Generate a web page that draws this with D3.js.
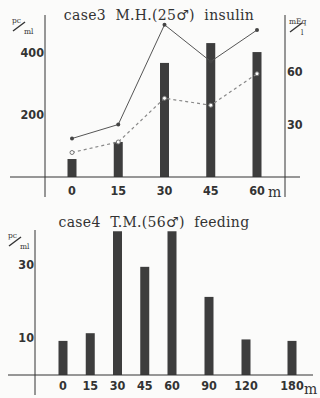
<!DOCTYPE html>
<html>
<head>
<meta charset="utf-8">
<script src="https://cdn.jsdelivr.net/npm/d3@7"></script>
<style>
  body { margin: 0; background: #fbfbfa; }
  svg { display: block; }
  .title { font-family: "DejaVu Serif", serif; font-size: 14px; fill: #333; white-space: pre; letter-spacing: 0.3px; }
  .tick-label { font-family: "DejaVu Sans Condensed", "DejaVu Sans", sans-serif; font-weight: bold; font-size: 12.5px; fill: #333; }
  .unit { font-family: "DejaVu Serif", serif; font-size: 7.5px; fill: #333; }
</style>
</head>
<body>
<div id="vis"></div>
<script>
// case 3 - insulin
const times3 = [0, 15, 30, 45, 60]
const bars3 = [58, 113, 368, 432, 403]          // pc/ml (left axis)
const solid3 = [22, 30, 87, 66, 84]             // mEq/l (right axis)
const dashed3 = [14, 20, 45, 41, 59]            // mEq/l (right axis)
const leftTicks3 = [200, 400]
const rightTicks3 = [30, 60]

// case 4 - feeding
const times4 = [0, 15, 30, 45, 60, 90, 120, 180]
const bars4 = [9.3, 11.4, 39.2, 29.5, 39.2, 21.3, 9.7, 9.3]
const leftTicks4 = [10, 30]

const svg = d3.select('#vis')
    .append('svg')
    .attr('width', 320)
    .attr('height', 398)

const ink = '#333'
const barColor = '#3d3d3d'

// ---------- top chart ----------
const gTop = svg.append('g')

const x3 = d3.scaleLinear().domain([0, 60]).range([72, 257])
const yL3 = d3.scaleLinear().domain([0, 400]).range([177, 53])
const yR3 = d3.scaleLinear().domain([0, 60]).range([177, 72])

// axes frame
gTop.append('line').attr('x1', 45).attr('x2', 45).attr('y1', 15).attr('y2', 197)
    .attr('stroke', ink).attr('stroke-width', 1)
gTop.append('line').attr('x1', 285).attr('x2', 285).attr('y1', 15).attr('y2', 197)
    .attr('stroke', ink).attr('stroke-width', 1)

gTop.selectAll('.bar3')
    .data(times3)
    .join('rect')
    .attr('class', 'bar3')
    .attr('x', d => x3(d) - 4.5)
    .attr('width', 9)
    .attr('y', (d, i) => yL3(bars3[i]))
    .attr('height', (d, i) => yL3(0) - yL3(bars3[i]))
    .attr('fill', barColor)

gTop.append('line').attr('x1', 10).attr('x2', 300).attr('y1', yL3(0)).attr('y2', yL3(0))
    .attr('stroke', ink).attr('stroke-width', 1)

// left ticks
gTop.selectAll('.lt3')
    .data(leftTicks3)
    .join('text')
    .attr('class', 'tick-label')
    .attr('x', 44)
    .attr('y', d => yL3(d) + 4)
    .attr('text-anchor', 'end')
    .text(d => d)

// right ticks
gTop.selectAll('.rt3')
    .data(rightTicks3)
    .join('text')
    .attr('class', 'tick-label')
    .attr('x', 287)
    .attr('y', d => yR3(d) + 4)
    .text(d => d)

// x tick labels
gTop.selectAll('.xt3')
    .data(times3)
    .join('text')
    .attr('class', 'tick-label')
    .attr('x', d => x3(d))
    .attr('y', 195)
    .attr('text-anchor', 'middle')
    .text(d => d)
gTop.append('text').attr('class', 'title').attr('x', 268).attr('y', 197).text('m')

// lines
const line3 = d3.line().x((d, i) => x3(times3[i])).y(d => yR3(d))
gTop.append('path').datum(solid3)
    .attr('d', line3)
    .attr('fill', 'none').attr('stroke', '#555').attr('stroke-width', 1)
gTop.selectAll('.sdot')
    .data(solid3)
    .join('circle')
    .attr('class', 'sdot')
    .attr('cx', (d, i) => x3(times3[i]))
    .attr('cy', d => yR3(d))
    .attr('r', 2)
    .attr('fill', '#444')

gTop.append('path').datum(dashed3)
    .attr('d', line3)
    .attr('fill', 'none').attr('stroke', '#888').attr('stroke-width', 1.2)
    .attr('stroke-dasharray', '3,3')
gTop.selectAll('.ddot')
    .data(dashed3)
    .join('circle')
    .attr('class', 'ddot')
    .attr('cx', (d, i) => x3(times3[i]))
    .attr('cy', d => yR3(d))
    .attr('r', 2)
    .attr('fill', '#fbfbfa')
    .attr('stroke', '#777')

gTop.append('text').attr('class', 'title')
    .attr('x', 159).attr('y', 20)
    .attr('text-anchor', 'middle')
    .text('case3  M.H.(25\u2642)  insulin')

// units
function unit(g, x, y, num, den) {
    g.append('text').attr('class', 'unit').attr('x', x).attr('y', y).text(num)
    g.append('line').attr('x1', x + 1).attr('x2', x + 13).attr('y1', y + 8).attr('y2', y - 1)
        .attr('stroke', ink).attr('stroke-width', 1.4)
    g.append('text').attr('class', 'unit').attr('x', x + 12).attr('y', y + 11).text(den)
}
unit(gTop, 12, 23, 'pc', 'ml')
unit(gTop, 289, 24, 'mEq', 'l')

// ---------- bottom chart ----------
const gBot = svg.append('g')

const x4 = d3.scaleLinear().domain([0, 60, 120, 180]).range([63, 172, 246, 292])
const y4 = d3.scaleLinear().domain([0, 30]).range([375, 265])

gBot.append('line').attr('x1', 35).attr('x2', 35).attr('y1', 230).attr('y2', 395)
    .attr('stroke', ink).attr('stroke-width', 1)

gBot.selectAll('.bar4')
    .data(times4)
    .join('rect')
    .attr('class', 'bar4')
    .attr('x', d => x4(d) - 4.5)
    .attr('width', 9)
    .attr('y', (d, i) => y4(bars4[i]))
    .attr('height', (d, i) => y4(0) - y4(bars4[i]))
    .attr('fill', barColor)

gBot.append('line').attr('x1', 8).attr('x2', 313).attr('y1', y4(0)).attr('y2', y4(0))
    .attr('stroke', ink).attr('stroke-width', 1)

gBot.selectAll('.lt4')
    .data(leftTicks4)
    .join('text')
    .attr('class', 'tick-label')
    .attr('x', 34)
    .attr('y', d => y4(d) + 4)
    .attr('text-anchor', 'end')
    .text(d => d)

gBot.selectAll('.xt4')
    .data(times4)
    .join('text')
    .attr('class', 'tick-label')
    .attr('x', d => x4(d))
    .attr('y', 390)
    .attr('text-anchor', 'middle')
    .text(d => d)
gBot.append('text').attr('class', 'title').attr('x', 304).attr('y', 394).text('m')

gBot.append('text').attr('class', 'title')
    .attr('x', 154).attr('y', 227)
    .attr('text-anchor', 'middle')
    .text('case4  T.M.(56\u2642)  feeding')

unit(gBot, 8, 238, 'pc', 'ml')
</script>
</body>
</html>
